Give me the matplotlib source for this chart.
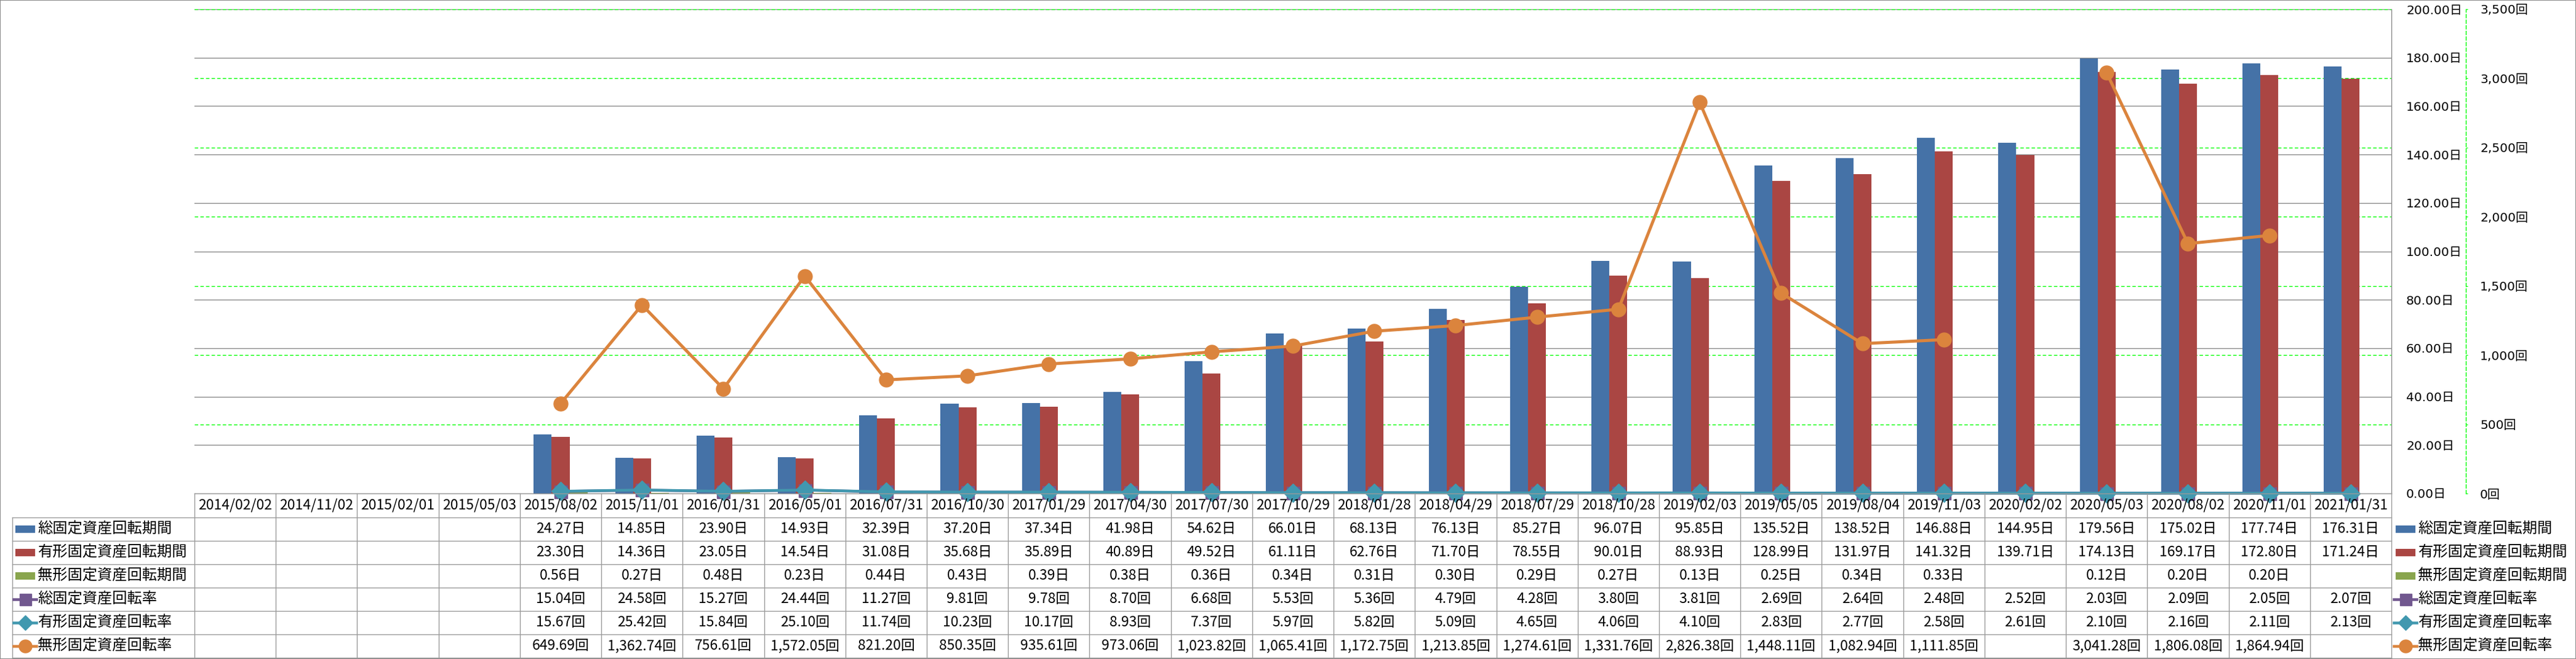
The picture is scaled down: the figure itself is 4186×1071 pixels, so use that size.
import matplotlib
matplotlib.use("Agg")
import matplotlib.pyplot as plt
from matplotlib.lines import Line2D
from matplotlib.patches import Rectangle
from matplotlib.ticker import FixedLocator, FuncFormatter
from matplotlib.transforms import blended_transform_factory
import numpy as np

# ---------------- data ----------------
dates = ["2014/02/02", "2014/11/02", "2015/02/01", "2015/05/03", "2015/08/02",
         "2015/11/01", "2016/01/31", "2016/05/01", "2016/07/31", "2016/10/30",
         "2017/01/29", "2017/04/30", "2017/07/30", "2017/10/29", "2018/01/28",
         "2018/04/29", "2018/07/29", "2018/10/28", "2019/02/03", "2019/05/05",
         "2019/08/04", "2019/11/03", "2020/02/02", "2020/05/03", "2020/08/02",
         "2020/11/01", "2021/01/31"]

series_names = ["総固定資産回転期間", "有形固定資産回転期間", "無形固定資産回転期間",
                "総固定資産回転率", "有形固定資産回転率", "無形固定資産回転率"]

total_days = [None, None, None, None, 24.27, 14.85, 23.90, 14.93, 32.39, 37.20, 37.34,
              41.98, 54.62, 66.01, 68.13, 76.13, 85.27, 96.07, 95.85, 135.52, 138.52,
              146.88, 144.95, 179.56, 175.02, 177.74, 176.31]
tangible_days = [None, None, None, None, 23.30, 14.36, 23.05, 14.54, 31.08, 35.68, 35.89,
                 40.89, 49.52, 61.11, 62.76, 71.70, 78.55, 90.01, 88.93, 128.99, 131.97,
                 141.32, 139.71, 174.13, 169.17, 172.80, 171.24]
intangible_days = [None, None, None, None, 0.56, 0.27, 0.48, 0.23, 0.44, 0.43, 0.39,
                   0.38, 0.36, 0.34, 0.31, 0.30, 0.29, 0.27, 0.13, 0.25, 0.34,
                   0.33, None, 0.12, 0.20, 0.20, None]
total_rate = [None, None, None, None, 15.04, 24.58, 15.27, 24.44, 11.27, 9.81, 9.78,
              8.70, 6.68, 5.53, 5.36, 4.79, 4.28, 3.80, 3.81, 2.69, 2.64,
              2.48, 2.52, 2.03, 2.09, 2.05, 2.07]
tangible_rate = [None, None, None, None, 15.67, 25.42, 15.84, 25.10, 11.74, 10.23, 10.17,
                 8.93, 7.37, 5.97, 5.82, 5.09, 4.65, 4.06, 4.10, 2.83, 2.77,
                 2.58, 2.61, 2.10, 2.16, 2.11, 2.13]
intangible_rate = [None, None, None, None, 649.69, 1362.74, 756.61, 1572.05, 821.20, 850.35,
                   935.61, 973.06, 1023.82, 1065.41, 1172.75, 1213.85, 1274.61, 1331.76,
                   2826.38, 1448.11, 1082.94, 1111.85, None, 3041.28, 1806.08, 1864.94, None]

left_ticks = list(range(0, 201, 20))
right_ticks = list(range(0, 3501, 500))

# ---------------- style ----------------
C_BLUE = "#4572A7"
C_RED = "#AA4643"
C_GREEN = "#89A54E"
C_PURPLE = "#71588F"
C_TEAL = "#4198AF"
C_ORANGE = "#DB843D"
GRID_GRAY = "#888888"
TABLE_GRAY = "#9A9A9A"
LIME = "#00FF00"

JP = ["Noto Sans CJK JP", "DejaVu Sans"]
AXF = ["DejaVu Sans", "Noto Sans CJK JP"]

W, H, DPI = 4186, 1071, 100
PT = 72.0 / DPI  # points per pixel


def fx(p):
    return p / W


def fy(p):
    return 1 - p / H


def arr(v):
    return np.array([np.nan if a is None else a for a in v], dtype=float)


fig = plt.figure(figsize=(W / DPI, H / DPI), dpi=DPI)
fig.patch.set_facecolor("white")

L, R, T, B = 316, 3886, 15, 802
ax = fig.add_axes([fx(L), fy(B), (R - L) / W, (B - T) / H])
ax2 = ax.twinx()

x = np.arange(len(dates))
bw = 0.22

# ---- bars (primary axis) ----
ax.bar(x - bw, arr(total_days), bw, color=C_BLUE, zorder=3)
ax.bar(x, arr(tangible_days), bw, color=C_RED, zorder=3)
ax.bar(x + bw, arr(intangible_days), bw, color=C_GREEN, zorder=3)

ax.set_xlim(-0.5, len(dates) - 0.5)
ax.set_ylim(left_ticks[0], left_ticks[-1])
ax.yaxis.set_major_locator(FixedLocator(left_ticks))
ax.yaxis.grid(True, color=GRID_GRAY, lw=1.4 * PT, zorder=0)
ax.set_axisbelow(True)

# secondary-axis grid drawn under the bars
gtrans = blended_transform_factory(ax.transAxes, ax2.transData)
for t in right_ticks[1:]:
    gl = Line2D([0, 1], [t, t], transform=gtrans, color=LIME, lw=1.4 * PT,
                ls=(0, (4, 2.5)), zorder=1)
    ax.add_artist(gl)

# ---- lines (secondary axis) ----
ax2.plot(x, arr(total_rate), color=C_PURPLE, lw=4.5 * PT, marker="s",
         ms=21 * PT, zorder=3, clip_on=False)
ax2.plot(x, arr(tangible_rate), color=C_TEAL, lw=4.5 * PT, marker="D",
         ms=21.5 * PT, zorder=4, clip_on=False)
ax2.plot(x, arr(intangible_rate), color=C_ORANGE, lw=5 * PT, marker="o",
         ms=23 * PT, zorder=5, clip_on=False)
ax2.set_ylim(right_ticks[0], right_ticks[-1])
ax2.yaxis.set_major_locator(FixedLocator(right_ticks))

# ---- axes decorations ----
ax.yaxis.tick_right()
ax.yaxis.set_major_formatter(FuncFormatter(lambda v, p: f"{v:.2f}日"))
ax.tick_params(axis="y", length=0, pad=24 * PT, labelsize=14.5,
               labelfontfamily=AXF, labelcolor="black")
ax2.yaxis.set_major_formatter(FuncFormatter(lambda v, p: f"{v:,.0f}回"))
ax2.tick_params(axis="y", length=3 * PT, width=1.2 * PT, color=LIME,
                direction="out", pad=20 * PT, labelsize=14.5,
                labelfontfamily=AXF, labelcolor="black")
ax.set_xticks([])
ax2.set_xticks([])

for s in ["left", "top", "bottom", "right"]:
    ax.spines[s].set_visible(False)
for s in ["left", "top", "bottom"]:
    ax2.spines[s].set_visible(False)
ax2.spines["right"].set_position(("outward", 121 * PT))
ax2.spines["right"].set_color(LIME)
ax2.spines["right"].set_linestyle((0, (4, 2.5)))
ax2.spines["right"].set_linewidth(1.4 * PT)
# primary axis line on the right edge of the plot area
ax.add_artist(Line2D([1, 1], [0, 1], transform=ax.transAxes, color=GRID_GRAY,
                     lw=1.4 * PT, clip_on=False, zorder=2))

# ---------------- data table ----------------
row_edges = [802, 841, 879, 917, 955, 993, 1031, 1069]
tb = blended_transform_factory(ax.transData, fig.transFigure)
lw_t = 1.4 * PT

fig.add_artist(Line2D([fx(L), fx(R)], [fy(row_edges[0])] * 2, color=TABLE_GRAY, lw=lw_t))
for ye in row_edges[1:]:
    fig.add_artist(Line2D([fx(20), fx(R)], [fy(ye)] * 2, color=TABLE_GRAY, lw=lw_t))
fig.add_artist(Line2D([fx(20), fx(20)], [fy(row_edges[1]), fy(row_edges[-1])],
                      color=TABLE_GRAY, lw=lw_t))
for i in range(len(dates) + 1):
    fig.add_artist(Line2D([i - 0.5, i - 0.5], [fy(row_edges[0]), fy(row_edges[-1])],
                          transform=tb, color=TABLE_GRAY, lw=lw_t))

yc_head = fy((row_edges[0] + row_edges[1]) / 2)
for i, d in enumerate(dates):
    fig.text(i, yc_head, d, transform=tb, ha="center", va="center",
             fontsize=16.5, fontfamily=JP, color="black")

all_series = [total_days, tangible_days, intangible_days,
              total_rate, tangible_rate, intangible_rate]
units = ["日", "日", "日", "回", "回", "回"]
for r, (vals, u) in enumerate(zip(all_series, units)):
    yc = fy((row_edges[r + 1] + row_edges[r + 2]) / 2)
    for i, v in enumerate(vals):
        if v is None:
            continue
        fig.text(i, yc, f"{v:,.2f}{u}", transform=tb, ha="center", va="center",
                 fontsize=16.5, fontfamily=JP, color="black")

# ---------------- row headers & legend ----------------
styles = [("bar", C_BLUE, None), ("bar", C_RED, None), ("bar", C_GREEN, None),
          ("line", C_PURPLE, "s"), ("line", C_TEAL, "D"), ("line", C_ORANGE, "o")]


def draw_key(x0, yc_px, style):
    kind, col, mk = style
    if kind == "bar":
        fig.add_artist(Rectangle((fx(x0 + 3), fy(yc_px + 6)), 32 / W, 12 / H,
                                 transform=fig.transFigure, facecolor=col,
                                 edgecolor="none"))
    else:
        fig.add_artist(Line2D([fx(x0), fx(x0 + 37)], [fy(yc_px)] * 2, color=col,
                              lw=4.5 * PT))
        ms = {"s": 19, "D": 17, "o": 21}[mk] * PT
        fig.add_artist(Line2D([fx(x0 + 18.5)], [fy(yc_px)], color=col, marker=mk,
                              ms=ms, lw=0))


for r, name in enumerate(series_names):
    yc_px = (row_edges[r + 1] + row_edges[r + 2]) / 2
    draw_key(22, yc_px, styles[r])
    fig.text(fx(61), fy(yc_px), name, ha="left", va="center", fontsize=17.5,
             fontfamily=JP, color="black")
    draw_key(3890, yc_px, styles[r])
    fig.text(fx(3929), fy(yc_px), name, ha="left", va="center", fontsize=17.5,
             fontfamily=JP, color="black")

fig.add_artist(Rectangle((0, 0), 1, 1, transform=fig.transFigure, fill=False,
                         edgecolor=GRID_GRAY, lw=2 * PT))

fig.savefig("out.png", dpi=DPI, facecolor="white")
